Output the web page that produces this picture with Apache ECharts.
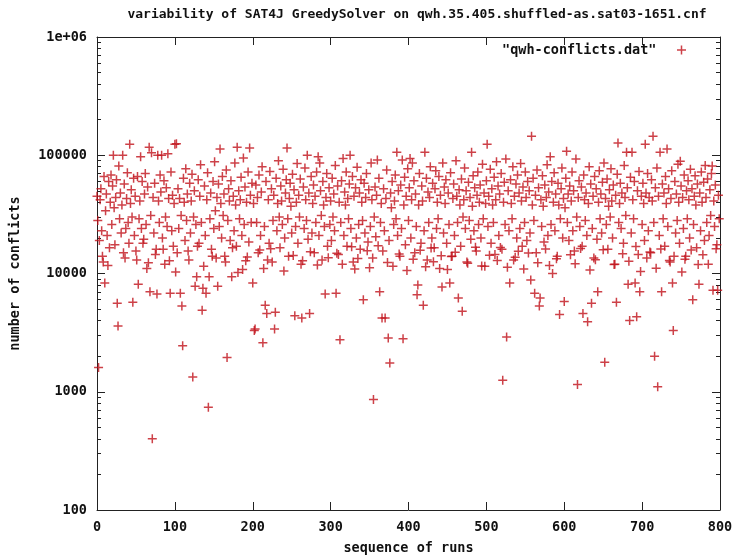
<!DOCTYPE html>
<html>
<head>
<meta charset="utf-8">
<script src="https://cdn.jsdelivr.net/npm/echarts@6/dist/echarts.min.js"></script>
<style>html,body{margin:0;padding:0;background:#fff;}#c{width:734px;height:555px;}</style>
</head>
<body>
<div id="c"></div>
<script>
var titleText = "variability of SAT4J GreedySolver on qwh.35.405.shuffled-as.sat03-1651.cnf";
var seriesName = '"qwh-conflicts.dat"';
var xTicks = [0, 100, 200, 300, 400, 500, 600, 700, 800];
var yMajorTicks = [100, 1000, 10000, 100000, 1000000];
var yTickLabels = ["100", "1000", "10000", "100000", "1e+06"];
var yMinorTicks = [200,300,400,500,600,700,800,900,2000,3000,4000,5000,6000,7000,8000,9000,
  20000,30000,40000,50000,60000,70000,80000,90000,200000,300000,400000,500000,600000,700000,800000,900000];

// number of conflicts for each run (run index = position in list, starting at 0)
var conflicts = [
45000,28000,1600,19000,42000,52000,23000,14000,12500,66000,
8300,34000,47000,21000,11700,60000,16500,40000,68000,26000,
55000,100000,36000,17500,44000,62000,5600,3600,81000,29000,
48000,22000,38000,100000,15000,57000,13500,24000,43000,71000,
27000,18000,124000,39000,51000,30000,5700,64000,21000,45000,
15500,13000,66000,8100,29000,41000,97000,24000,60000,18000,
19500,47000,70000,26000,11000,54000,12300,117000,7000,31000,
105000,400,44000,22000,58000,14500,16000,6700,100000,41000,
27000,68000,49000,100000,20000,16000,61000,12000,30000,53000,
25000,103000,43000,12800,6800,72000,23000,46000,17000,39000,
124000,10300,125000,15000,52000,24000,43000,6800,31000,5300,
2450,64000,40000,19000,77000,28000,47000,15500,13000,58000,
22000,41000,69000,1330,30000,50000,7800,26000,9400,17000,
62000,18000,45000,83000,27000,4900,7500,11500,55000,21000,
6800,42000,71000,740,9400,29000,48000,16000,14000,60000,
24000,88000,34000,13500,44000,7800,57000,25000,113000,39000,
20000,66000,31000,47000,14000,12500,75000,1950,28000,52000,
41000,19000,61000,9400,16500,45000,23000,86000,38000,17000,
117000,10200,50000,29000,42000,65000,21000,10800,95000,26000,
54000,12800,40000,13800,72000,18500,115000,46000,27000,58000,
8300,39000,3300,3400,56000,27000,44000,15000,68000,15800,
21000,49000,80000,2600,11000,25000,5400,60000,4600,13000,
42000,18000,73000,16200,52000,12500,28000,46000,3400,4700,
64000,23000,39000,90000,30000,16500,55000,41000,26000,76000,
10500,20000,48000,62000,115000,29000,14000,43000,58000,37000,
22000,69000,14200,51000,4400,25000,40000,85000,18000,46000,
30000,63000,12000,4200,12800,54000,24000,78000,42000,28000,
100000,19500,48000,4600,15300,66000,22000,39000,56000,15000,
45000,27000,72000,11800,97000,21000,86000,50000,31000,13000,
60000,38000,25000,6700,44000,70000,17000,13600,53000,26000,
41000,19000,64000,30000,47000,23000,82000,6800,14800,55000,
14500,40000,2750,27000,61000,12000,94000,21000,49000,38000,
72000,17000,43000,29000,57000,100000,24000,16800,66000,12500,
45000,10900,53000,20000,79000,13400,26000,48000,16000,62000,
40000,28000,6000,58000,22000,44000,70000,15600,18500,51000,
11200,25000,86000,42000,13500,860,30000,54000,20500,46000,
91000,17200,64000,7000,27000,39000,4200,15500,52000,23000,
4200,43000,75000,12400,2850,19000,1750,48000,36000,60000,
11500,26000,41000,68000,29000,106000,21000,50000,14600,14000,
56000,24000,91000,2800,38000,65000,17500,45000,10600,77000,
28000,53000,94000,20000,42000,86000,13200,61000,15000,47000,
25000,6600,8000,38000,70000,15700,18000,55000,41000,5400,
23000,106000,11400,64000,13000,49000,27000,44000,80000,16400,
20000,58000,12600,16500,52000,74000,24000,40000,29000,66000,
11000,46000,14100,7700,86000,22000,54000,39000,62000,18000,
10800,48000,26000,8300,71000,13900,14000,43000,57000,21000,
15100,90000,45000,27000,6200,51000,38000,17000,63000,4800,
30000,42000,78000,24000,50000,12500,12200,59000,28000,44000,
19500,106000,37000,67000,23000,53000,16700,15500,46000,72000,
26000,40000,56000,20000,11600,84000,29000,48000,11500,39000,
61000,124000,25000,45000,14300,76000,18000,52000,38000,27000,
65000,14500,42000,88000,12900,55000,21000,47000,16600,70000,
16000,1250,40000,59000,26000,93000,2900,11300,50000,23000,
8300,62000,39000,29000,80000,13000,45000,13700,57000,20000,
68000,15400,48000,24000,85000,41000,17000,54000,10900,27000,
72000,44000,19000,60000,14900,50000,22000,8800,145000,38000,
64000,28000,6800,46000,15000,75000,12300,53000,5300,6200,
42000,25000,67000,37000,18500,56000,16100,44000,83000,21000,
49000,11700,97000,26000,60000,10000,40000,71000,23000,47000,
13300,14000,58000,38000,4500,29000,52000,78000,20000,43000,
5800,36000,64000,108000,27000,47000,19000,55000,14400,41000,
72000,23000,50000,15500,12100,93000,30000,1150,44000,61000,
25000,16300,54000,17000,4600,68000,42000,28000,48000,21000,
3900,39000,80000,10700,57000,5600,24000,45000,13500,66000,
13100,52000,19500,7000,40000,74000,29000,47000,22000,59000,
15900,86000,1780,43000,26000,63000,16000,37000,51000,30000,
77000,41000,20000,56000,11900,12000,46000,5700,69000,127000,
27000,39000,58000,24000,48000,14700,18000,82000,44000,31000,
106000,53000,8100,12700,4000,65000,22000,106000,42000,29000,
60000,8300,16900,4300,50000,14500,73000,7000,10400,45000,
26000,58000,39000,19000,124000,48000,13500,70000,23000,44000,
15200,15000,62000,41000,145000,27000,2000,53000,11100,78000,
1100,45000,21000,106000,16100,7000,57000,29000,48000,17000,
66000,39000,113000,25000,52000,12900,12500,43000,74000,8300,
3300,14000,60000,22000,47000,28000,84000,40000,18000,89000,
55000,10300,44000,24000,68000,13200,14000,50000,29000,61000,
42000,20000,76000,15800,52000,6000,26000,45000,67000,38000,
16500,57000,11900,8100,48000,23000,72000,40000,14400,59000,
19000,82000,44000,27000,63000,12000,21000,51000,31000,70000,
81000,7200,41000,25000,56000,16200,17500,7200,46000,29000
];

var FONT = "'DejaVu Sans Mono', 'Liberation Mono', monospace";
var FS = 13.5;
var frameColor = '#222';
var plusPath = 'path://M3.75,0H5.25V3.75H9V5.25H5.25V9H3.75V5.25H0V3.75H3.75Z';
var red = '#c0121a';

var chart = echarts.init(document.getElementById('c'), null, {renderer: 'canvas'});

function yAxisDef(pos, minor, showLabel, withName) {
  var a = {
    type: 'log', logBase: 10, min: 100, max: 1000000, position: pos,
    axisLine: {show: !minor, lineStyle: {color: frameColor, width: 1}},
    axisTick: {show: true, inside: true, length: minor ? 4 : 8,
      customValues: minor ? yMinorTicks : yMajorTicks,
      lineStyle: {color: frameColor, width: 1}},
    axisLabel: {show: showLabel, customValues: yMajorTicks, margin: 10,
      formatter: function (v) { var i = yMajorTicks.indexOf(v); return i >= 0 ? yTickLabels[i] : ''; },
      fontFamily: FONT, fontWeight: 'bold', fontSize: FS, color: '#111'},
    splitLine: {show: false}, minorTick: {show: false}
  };
  if (withName) {
    a.name = 'number of conflicts';
    a.nameLocation = 'middle';
    a.nameRotate = 90;
    a.nameGap = 75;
    a.nameTextStyle = {fontFamily: FONT, fontWeight: 'bold', fontSize: FS, color: '#111'};
  }
  return a;
}

function xAxisDef(pos, showLabel, withName) {
  var a = {
    type: 'value', min: 0, max: 800, interval: 100, position: pos,
    axisLine: {show: true, onZero: false, lineStyle: {color: frameColor, width: 1}},
    axisTick: {show: true, inside: true, length: 8, customValues: xTicks, lineStyle: {color: frameColor, width: 1}},
    axisLabel: {show: showLabel, margin: 10, fontFamily: FONT, fontWeight: 'bold', fontSize: FS, color: '#111'},
    splitLine: {show: false}
  };
  if (withName) {
    a.name = 'sequence of runs';
    a.nameLocation = 'middle';
    a.nameGap = 31;
    a.nameTextStyle = {fontFamily: FONT, fontWeight: 'bold', fontSize: FS, color: '#111'};
  }
  return a;
}

var option = {
  animation: false,
  backgroundColor: '#ffffff',
  title: {
    text: titleText, left: 412, textAlign: 'center', top: 3,
    textStyle: {fontFamily: FONT, fontWeight: 'bold', fontSize: 13, color: '#111'}
  },
  legend: {
    right: 43, top: 38, align: 'right', selectedMode: false,
    itemWidth: 40, itemHeight: 9,
    data: [{name: seriesName, icon: plusPath}],
    textStyle: {fontFamily: FONT, fontWeight: 'bold', fontSize: FS, color: '#111'}
  },
  grid: {left: 97, right: 14, top: 37, bottom: 45, containLabel: false, outerBoundsMode: 'none'},
  xAxis: [xAxisDef('bottom', true, true), xAxisDef('top', false, false)],
  yAxis: [
    yAxisDef('left', false, true, true),
    yAxisDef('left', true, false, false),
    yAxisDef('right', false, false, false),
    yAxisDef('right', true, false, false)
  ],
  series: [{
    name: seriesName,
    type: 'scatter',
    xAxisIndex: 0, yAxisIndex: 0,
    symbol: plusPath,
    symbolSize: 9,
    itemStyle: {color: red},
    data: conflicts.map(function (v, i) { return [i, v]; })
  }]
};
chart.setOption(option);
</script>
</body>
</html>
